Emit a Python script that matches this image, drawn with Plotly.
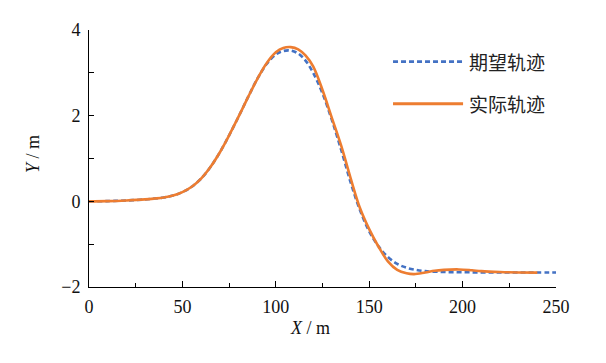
import plotly.graph_objects as go

# Desired trajectory (blue dashed)
x_desired = [0, 10, 20, 30, 35, 40, 45, 50, 55, 60, 65, 70, 75, 80, 85, 90, 95, 100, 104, 108,
             112, 116, 120, 125, 130, 135, 140, 145, 150, 155, 160, 165, 170, 175, 180,
             190, 200, 210, 220, 230, 240, 250]
y_desired = [0, 0.005, 0.02, 0.045, 0.065, 0.09, 0.135, 0.215, 0.34, 0.53, 0.8, 1.14, 1.54,
             1.97, 2.42, 2.85, 3.2, 3.43, 3.51, 3.52, 3.45, 3.28, 3.0, 2.52, 1.9, 1.2, 0.45,
             -0.2, -0.7, -1.05, -1.3, -1.46, -1.55, -1.6, -1.63, -1.65, -1.655, -1.66, -1.66,
             -1.66, -1.66, -1.66]

# Actual trajectory (orange solid)
x_actual = [0, 10, 20, 30, 35, 40, 45, 50, 55, 60, 65, 70, 75, 80, 85, 90, 95, 100, 104, 108,
            112, 116, 120, 125, 130, 135, 140, 145, 150, 155, 160, 165, 170, 174, 180, 185,
            190, 198, 205, 210, 220, 230, 240]
y_actual = [0, 0.005, 0.02, 0.045, 0.065, 0.09, 0.135, 0.215, 0.34, 0.53, 0.8, 1.14, 1.54,
            1.97, 2.42, 2.85, 3.22, 3.48, 3.58, 3.6, 3.55, 3.4, 3.15, 2.6, 1.95, 1.3, 0.55,
            -0.15, -0.65, -1.06, -1.4, -1.6, -1.68, -1.7, -1.66, -1.62, -1.6, -1.59, -1.61,
            -1.63, -1.65, -1.66, -1.665]

names = ["期望轨迹", "实际轨迹"]
colors = ["#4472C4", "#ED7D31"]
dashes = ["5px,3px", "solid"]
x_title = "<i>X</i> / m"
y_title = "<i>Y</i> / m"

fig = go.Figure()
fig.add_trace(go.Scatter(x=x_desired, y=y_desired, mode="lines", name=names[0],
                         showlegend=False,
                         line=dict(color=colors[0], width=2.6, dash=dashes[0],
                                   shape="spline", smoothing=1.0)))
fig.add_trace(go.Scatter(x=x_actual, y=y_actual, mode="lines", name=names[1],
                         showlegend=False,
                         line=dict(color=colors[1], width=2.6, shape="spline", smoothing=1.0)))

tickfont = dict(family="Liberation Serif, Times New Roman, serif", size=18, color="#111")
cjkfont = dict(family="Noto Sans CJK SC", size=19, color="#222")

# manual legend (paper coords), longer sample lines like the reference
legend_y = [0.877, 0.713]
for i in range(2):
    fig.add_shape(type="line", xref="paper", yref="paper",
                  x0=0.651, x1=0.801, y0=legend_y[i], y1=legend_y[i],
                  line=dict(color=colors[i], width=2.8, dash=dashes[i]))
    fig.add_annotation(xref="paper", yref="paper", x=0.81, y=legend_y[i],
                       xanchor="left", yanchor="middle", text=names[i],
                       showarrow=False, font=cjkfont)

# axis titles
fig.add_annotation(xref="paper", yref="paper", x=(310 - 89) / 467, y=(287 - 329) / 261,
                   xanchor="center", yanchor="middle", text=x_title, showarrow=False,
                   font=tickfont)
fig.add_annotation(xref="paper", yref="paper", x=(33 - 89) / 467, y=(287 - 152) / 261,
                   xanchor="center", yanchor="middle", text=y_title, showarrow=False,
                   textangle=-90, font=tickfont)

fig.update_layout(
    width=598, height=355,
    margin=dict(l=81, r=50, t=18, b=76),
    plot_bgcolor="white", paper_bgcolor="white",
    showlegend=False,
    xaxis=dict(range=[0, 250], showgrid=False, zeroline=False, showline=True,
               linecolor="black", linewidth=1, ticks="inside", ticklen=6,
               tickcolor="black", dtick=50, tick0=0, tickfont=tickfont,
               ticklabelstandoff=3,
               minor=dict(ticks="inside", ticklen=4, dtick=25, tickcolor="black")),
    yaxis=dict(range=[-2, 4], showgrid=False, zeroline=False, showline=True,
               linecolor="black", linewidth=1, ticks="inside", ticklen=5,
               tickcolor="black", dtick=2, tick0=0, tickfont=tickfont,
               ticklabelstandoff=4,
               minor=dict(ticks="inside", ticklen=5, dtick=1, tickcolor="black")),
)

fig.write_html("out.html")
